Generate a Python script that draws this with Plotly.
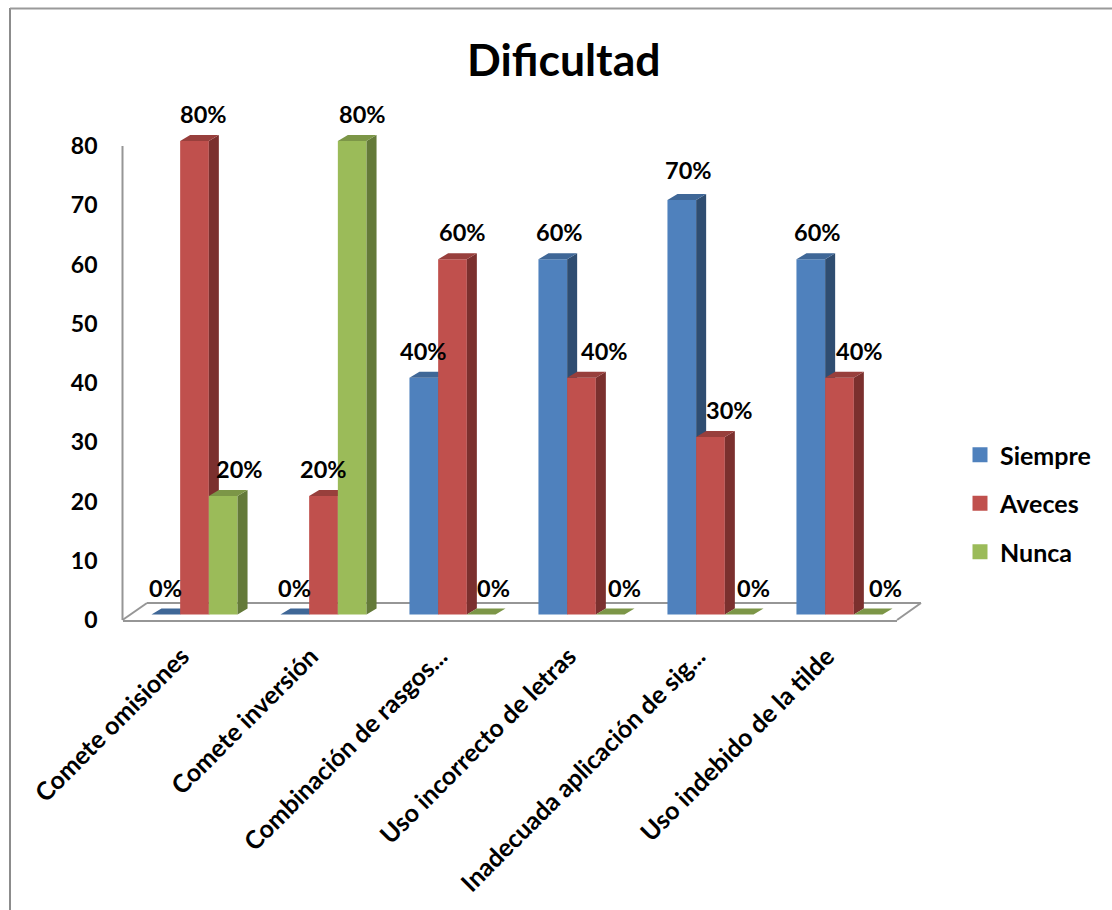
import plotly.graph_objects as go

# ---- data ----
categories = ["Comete omisiones", "Comete inversión", "Combinación de rasgos...",
              "Uso incorrecto de letras", "Inadecuada aplicación de sig...",
              "Uso indebido de la tilde"]
series_names = ["Siempre", "Aveces", "Nunca"]
siempre = [0, 0, 40, 60, 70, 60]
aveces = [80, 20, 60, 40, 30, 40]
nunca = [20, 80, 0, 0, 0, 0]
y_ticks = [0, 10, 20, 30, 40, 50, 60, 70, 80]

# ---- style ----
front = ["#4F81BD", "#C0504D", "#9BBB59"]
side = ["#2F4D71", "#7B302E", "#647A39"]
top = ["#3F6797", "#983F3C", "#7C9647"]
label_dx = [[0, 0, 0, 7, 7, 7], [9, 0, 10, 23, 19, 20], [16, 10, 12, 14, 14, 17]]
label_dy = [[27, 27, 27, 27, 30, 27], [27, 27, 27, 27, 27, 27], [27, 27, 27, 27, 27, 27]]
FONT = "Lato"
W, H = 1112, 910
GRAY = "#969696"

def fx(p):
    return p / W

def fy(p):
    return 1 - p / H

# pixel geometry expressed as axis settings
pitch = 129.0
x0px = 194.5
bar_w = 28.7 / pitch
dx = 10 / pitch
scale = 5.92
dy = 6 / scale
x_range = [(122.5 - x0px) / pitch, (897 - x0px) / pitch]
TOP_PX = 129
bar_range = [(614.5 - 620) / scale, (614.5 - TOP_PX) / scale]
tick_range = [0, (620 - TOP_PX) / 5.925]
label_shift = 12.5 / pitch

fig = go.Figure()
all_vals = [siempre, aveces, nunca]
axes = ["y2", "y3", "y4"]
for s, vals in enumerate(all_vals):
    xs = [i + (s - 1) * bar_w for i in range(len(vals))]
    fig.add_trace(go.Bar(x=xs, y=vals, width=bar_w, name=series_names[s],
                         marker=dict(color=front[s], line=dict(width=0)),
                         yaxis=axes[s], showlegend=False, hoverinfo="skip"))
    sx, sy, tx, ty = [], [], [], []
    for c, v in zip(xs, vals):
        l, r = c - bar_w / 2, c + bar_w / 2
        sx += [r, r + dx, r + dx, r, r, None]
        sy += [0, dy, v + dy, v, 0, None]
        tx += [l, r, r + dx, l + dx, l, None]
        ty += [v, v, v + dy, v + dy, v, None]
    for px_, py_, col in ((sx, sy, side[s]), (tx, ty, top[s])):
        fig.add_trace(go.Scatter(x=px_, y=py_, mode="lines", fill="toself", fillcolor=col,
                                 line=dict(width=0, color=col), yaxis=axes[s],
                                 showlegend=False, hoverinfo="skip"))
    # legend key
    fig.add_trace(go.Scatter(x=[None], y=[None], mode="markers", name=series_names[s],
                             legendgroup=series_names[s], yaxis="y",
                             marker=dict(symbol="square", size=15, color=front[s], line=dict(width=0))))

annotations = []
for s, vals in enumerate(all_vals):
    for i, v in enumerate(vals):
        annotations.append(dict(x=i + (s - 1) * bar_w, y=v, xref="x", yref=axes[s],
                                text=f"{v}%", showarrow=False, xanchor="center", yanchor="middle",
                                xshift=label_dx[s][i], yshift=label_dy[s][i],
                                font=dict(family=FONT, size=23.5, color="black", weight="bold")))
annotations.append(dict(x=fx(564), y=fy(59), xref="paper", yref="paper", text="Dificultad",
                        showarrow=False, xanchor="center", yanchor="middle",
                        font=dict(family=FONT, size=44.5, color="black", weight="bold")))

def seg(a, b, c, d, col=GRAY):
    return dict(type="line", xref="paper", yref="paper", x0=fx(a), y0=fy(b), x1=fx(c), y1=fy(d),
                line=dict(color=col, width=2), layer="below")
shapes = [seg(122.5, 146, 122.5, 620), seg(122.5, 620, 147, 603), seg(147, 603, 921, 603),
          seg(921, 603, 897, 620), seg(10, 8, 10, 910, "#8C8C8C"), seg(10, 8.5, 1112, 8.5, "#9A9A9A")]

bar_axis = dict(range=bar_range, overlaying="y", visible=False, anchor="x")
fig.update_layout(
    width=W, height=H, margin=dict(l=0, r=0, t=0, b=0, pad=0, autoexpand=False),
    paper_bgcolor="white", plot_bgcolor="rgba(0,0,0,0)", barmode="overlay",
    font=dict(family=FONT, color="black"),
    annotations=annotations, shapes=shapes,
    xaxis=dict(domain=[fx(122.5), fx(897)], range=x_range, tickmode="array",
               tickvals=[i - label_shift for i in range(len(categories))], ticktext=categories,
               tickangle=-45,
               showgrid=False, zeroline=False, showline=True, linecolor=GRAY, linewidth=2,
               ticks="", ticklabelstandoff=10, anchor="y", automargin=False,
               tickfont=dict(family=FONT, size=25, color="black", weight="bold")),
    yaxis=dict(domain=[fy(620), fy(TOP_PX)], range=tick_range, tickmode="array", tickvals=y_ticks,
               showgrid=False, zeroline=False, showline=False,
               ticks="", ticklabelstandoff=24, anchor="x", automargin=False,
               tickfont=dict(family=FONT, size=23, color="black", weight="bold")),
    yaxis2=bar_axis, yaxis3=bar_axis, yaxis4=bar_axis,
    legend=dict(x=fx(960), y=fy(432), xanchor="left", yanchor="top", tracegroupgap=13,
                bgcolor="rgba(0,0,0,0)", borderwidth=0,
                font=dict(family=FONT, size=25, color="black", weight="bold")),
)
fig.write_html("out.html", config={"displayModeBar": False},
               post_script="document.body.style.margin='0';document.documentElement.style.overflow='hidden';")
